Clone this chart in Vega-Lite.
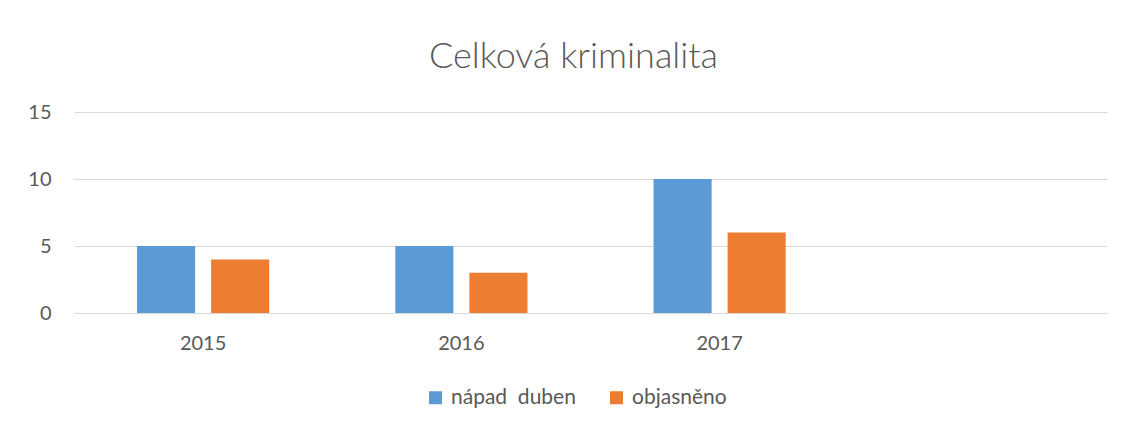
{
  "$schema": "https://vega.github.io/schema/vega-lite/v6.json",
  "autosize": {"type": "none"},
  "width": 1033,
  "height": 201,
  "padding": {"left": 74, "top": 112, "right": 16, "bottom": 114},
  "background": "white",
  "title": {
    "text": "Celková kriminalita",
    "font": "Lato",
    "fontSize": 36,
    "fontWeight": 300,
    "color": "#595959",
    "anchor": "middle",
    "dx": -17,
    "offset": 26
  },
  "data": {
    "values": [
      {"year": "2015", "series": "nápad\u00a0\u00a0duben", "value": 5},
      {"year": "2015", "series": "objasněno", "value": 4},
      {"year": "2016", "series": "nápad\u00a0\u00a0duben", "value": 5},
      {"year": "2016", "series": "objasněno", "value": 3},
      {"year": "2017", "series": "nápad\u00a0\u00a0duben", "value": 10},
      {"year": "2017", "series": "objasněno", "value": 6}
    ]
  },
  "mark": {"type": "bar"},
  "encoding": {
    "x": {
      "field": "year",
      "type": "nominal",
      "scale": {"domain": ["2015", "2016", "2017", " "], "paddingInner": 0, "paddingOuter": 0},
      "axis": {
        "title": null,
        "labelAngle": 0,
        "labelFont": "Lato",
        "labelFontSize": 20,
        "labelColor": "#595959",
        "labelPadding": 20,
        "ticks": false,
        "domain": true,
        "domainColor": "#D9D9D9",
        "grid": false
      }
    },
    "xOffset": {
      "field": "series",
      "type": "nominal",
      "scale": {"paddingInner": 0.216, "paddingOuter": 0.851}
    },
    "y": {
      "field": "value",
      "type": "quantitative",
      "scale": {"domain": [0, 15]},
      "axis": {
        "title": null,
        "values": [0, 5, 10, 15],
        "labelFont": "Lato",
        "labelFontSize": 20,
        "labelColor": "#595959",
        "labelPadding": 23,
        "ticks": false,
        "domain": false,
        "grid": true,
        "gridColor": "#D9D9D9",
        "gridWidth": 1
      }
    },
    "color": {
      "field": "series",
      "type": "nominal",
      "scale": {"domain": ["nápad\u00a0\u00a0duben", "objasněno"], "range": ["#5B9BD5", "#ED7D31"]},
      "legend": {
        "title": null,
        "orient": "none",
        "direction": "horizontal",
        "legendX": 351,
        "legendY": 275,
        "symbolType": "square",
        "symbolSize": 169,
        "symbolStrokeWidth": 0,
        "labelFont": "Lato",
        "labelFontSize": 21,
        "labelColor": "#595959",
        "labelOffset": 5,
        "columnPadding": 30
      }
    }
  },
  "config": {"view": {"stroke": null}}
}
